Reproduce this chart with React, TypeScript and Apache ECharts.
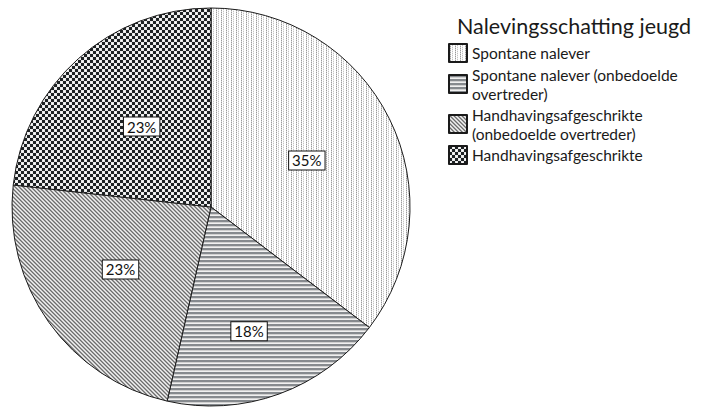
import React, { useEffect, useRef } from "react";
import * as echarts from "echarts";

const categories = [
  "Spontane nalever",
  "Spontane nalever (onbedoelde overtreder)",
  "Handhavingsafgeschrikte (onbedoelde overtreder)",
  "Handhavingsafgeschrikte",
];
const legendLabels = [
  "Spontane nalever",
  "Spontane nalever (onbedoelde\novertreder)",
  "Handhavingsafgeschrikte\n(onbedoelde overtreder)",
  "Handhavingsafgeschrikte",
];
const values = [35, 18, 23, 23];
const chartTitle = "Nalevingsschatting jeugd";

const FONT = "Lato";

function makeTile(w: number, h: number, fn: (x: number, y: number) => string) {
  const c = document.createElement("canvas");
  c.width = w;
  c.height = h;
  const ctx = c.getContext("2d")!;
  for (let y = 0; y < h; y++) {
    for (let x = 0; x < w; x++) {
      ctx.fillStyle = fn(x, y);
      ctx.fillRect(x, y, 1, 1);
    }
  }
  return { image: c, repeat: "repeat", imageWidth: w, imageHeight: h } as any;
}

export default function App() {
  const ref = useRef<HTMLDivElement>(null);
  useEffect(() => {
    const chart = echarts.init(ref.current!, null, { renderer: "svg" });
    const dotted = makeTile(5, 4, (x, y) =>
      x === 1 ? (y % 2 === 0 ? "#9a9a9a" : "#d6d6d6") : x === 3 ? (y % 2 === 1 ? "#c4c4c4" : "#eeeeee") : "#ffffff"
    );
    const horiz = makeTile(4, 4, (x, y) => (y < 2 ? "#868a8e" : y === 2 ? "#d0d0d0" : "#f0f0f0"));
    const diag = makeTile(4, 4, (x, y) => {
      const d = (x - y + 8) % 4;
      return d === 0 ? "#6e6e6e" : d === 1 ? "#a4a4a4" : d === 2 ? "#f0f0f0" : "#c8c8c8";
    });
    const checker = makeTile(6, 6, (x, y) => {
      const cx = Math.floor(x / 3), cy = Math.floor(y / 3);
      if ((cx + cy) % 2 === 0) return "#1e2224";
      return x % 3 === 1 && y % 3 === 1 ? "#ffffff" : "#e8e8e8";
    });
    const fills = [dotted, horiz, diag, checker];
    const offsets = [[4, -1], [3, 28], [-7, 3], [-1, -4]];

    chart.setOption({
      animation: false,
      title: {
        text: chartTitle,
        left: 457,
        top: 15,
        padding: 0,
        textStyle: { fontFamily: FONT, fontSize: 21.5, fontWeight: "normal", color: "#1a1a1a" },
      },
      legend: {
        orient: "vertical",
        left: 448,
        top: 43,
        padding: 0,
        itemWidth: 18,
        itemHeight: 18,
        itemGap: 2,
        icon: "rect",
        selectedMode: false,
        formatter: (name: string) => legendLabels[categories.indexOf(name)],
        textStyle: { fontFamily: FONT, fontSize: 15.5, lineHeight: 19, color: "#1a1a1a" },
        data: categories,
      },
      series: [
        {
          type: "pie",
          center: [211, 207],
          radius: 199,
          startAngle: 90,
          clockwise: true,
          silent: true,
          itemStyle: { borderColor: "#1a1a1a", borderWidth: 1 },
          label: {
            show: true,
            position: "inside",
            formatter: (p: any) => `${p.value}%`,
            fontFamily: FONT,
            fontSize: 15,
            color: "#111",
            backgroundColor: "#ffffff",
            borderColor: "#111",
            borderWidth: 1,
            padding: [2, 3, 1, 3],
          },
          labelLine: { show: false },
          data: categories.map((name, i) => ({
            name,
            value: values[i],
            itemStyle: { color: fills[i] },
            label: { offset: offsets[i] },
          })),
        },
      ],
    });
    return () => chart.dispose();
  }, []);
  return (
    <div
      ref={ref}
      style={{ position: "fixed", left: 0, top: 0, width: 705, height: 408, background: "#fff" }}
    />
  );
}
